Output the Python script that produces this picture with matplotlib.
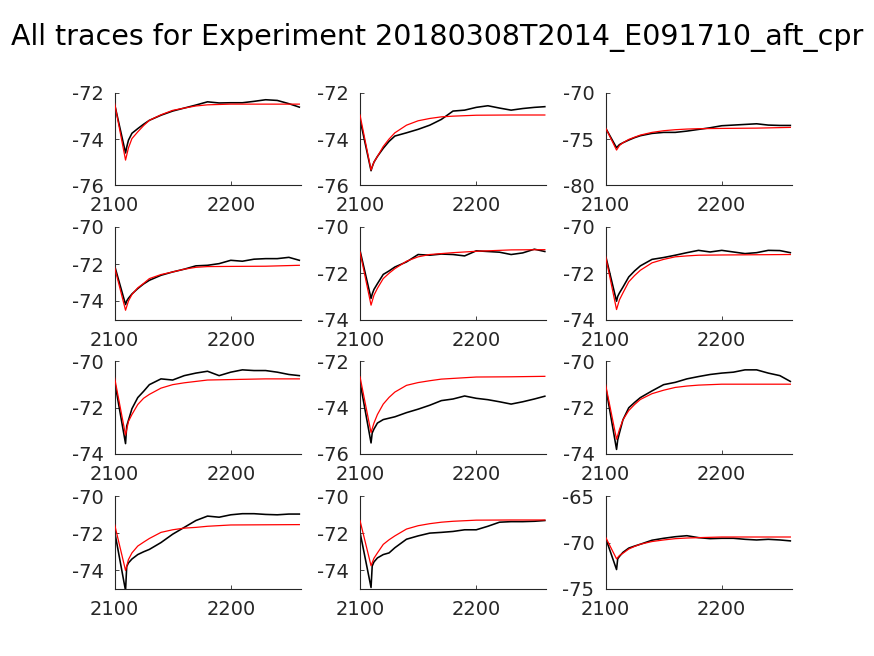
import matplotlib
matplotlib.use('Agg')
import matplotlib.pyplot as plt

plt.rcParams['font.family'] = ['DejaVu Sans']
plt.rcParams['axes.unicode_minus'] = False

title = "All traces for Experiment 20180308T2014_E091710_aft_cpr"
xlim = (2100, 2260)
xticks = [2100, 2200]

# time grid for recorded traces (black) and fitted curves (red)
t_trace = [2100, 2109.5, 2110.5, 2112, 2115, 2120, 2125, 2130, 2140, 2150, 2160,
           2170, 2180, 2190, 2200, 2210, 2220, 2230, 2240, 2250, 2259]
t_fit = [2100, 2109.5, 2112, 2115, 2120, 2125, 2130, 2140, 2150, 2160, 2170,
         2180, 2200, 2230, 2259]

trace_11 = [-72.47, -74.6, -74.35, -74.05, -73.75, -73.55, -73.36, -73.19, -72.97, -72.79, -72.66,
            -72.53, -72.39, -72.44, -72.43, -72.43, -72.37, -72.30, -72.33, -72.47, -72.62]
fit_11 = [-72.43, -74.91, -74.38, -73.98, -73.69, -73.42, -73.19, -72.95, -72.76, -72.66, -72.57,
          -72.52, -72.49, -72.49, -72.49]

trace_12 = [-73.15, -75.37, -75.2, -75.0, -74.75, -74.40, -74.10, -73.87, -73.73, -73.58, -73.40,
            -73.15, -72.79, -72.75, -72.63, -72.56, -72.66, -72.75, -72.68, -72.63, -72.60]
fit_12 = [-72.96, -75.34, -75.0, -74.75, -74.32, -74.0, -73.73, -73.40, -73.21, -73.11, -73.04,
          -73.01, -72.97, -72.96, -72.96]

trace_13 = [-73.78, -75.94, -75.8, -75.6, -75.4, -75.11, -74.85, -74.64, -74.39, -74.28, -74.28,
            -74.14, -73.96, -73.78, -73.56, -73.49, -73.42, -73.35, -73.49, -73.53, -73.53]
fit_13 = [-73.78, -76.19, -75.7, -75.4, -75.04, -74.8, -74.57, -74.28, -74.10, -73.99, -73.92,
          -73.88, -73.85, -73.82, -73.74]

trace_21 = [-72.07, -74.19, -74.0, -73.85, -73.62, -73.33, -73.08, -72.88, -72.61, -72.43, -72.28,
            -72.10, -72.07, -71.98, -71.80, -71.85, -71.74, -71.71, -71.71, -71.64, -71.80]
fit_21 = [-72.16, -74.50, -74.0, -73.65, -73.29, -73.05, -72.79, -72.57, -72.43, -72.28, -72.18,
          -72.14, -72.13, -72.12, -72.07]

trace_22 = [-71.01, -73.09, -72.9, -72.70, -72.45, -72.05, -71.90, -71.73, -71.51, -71.19, -71.22,
            -71.17, -71.19, -71.25, -71.03, -71.06, -71.09, -71.19, -71.12, -70.96, -71.06]
fit_22 = [-71.08, -73.38, -72.95, -72.65, -72.23, -72.0, -71.80, -71.48, -71.29, -71.19, -71.15,
          -71.11, -71.05, -70.99, -70.98]

trace_23 = [-71.22, -73.21, -73.0, -72.85, -72.60, -72.16, -71.90, -71.68, -71.40, -71.32, -71.22,
            -71.11, -71.01, -71.08, -71.01, -71.08, -71.15, -71.11, -71.01, -71.02, -71.11]
fit_23 = [-71.25, -73.57, -73.15, -72.85, -72.37, -72.1, -71.87, -71.55, -71.40, -71.29, -71.25,
          -71.22, -71.21, -71.20, -71.19]

trace_31 = [-70.84, -73.56, -72.8, -72.55, -72.05, -71.57, -71.30, -71.01, -70.76, -70.81, -70.62,
            -70.51, -70.43, -70.62, -70.47, -70.37, -70.40, -70.40, -70.47, -70.57, -70.62]
fit_31 = [-70.69, -73.19, -72.6, -72.3, -71.87, -71.6, -71.43, -71.16, -71.01, -70.93, -70.87,
          -70.81, -70.79, -70.76, -70.76]

trace_32 = [-72.89, -75.53, -75.1, -74.93, -74.67, -74.52, -74.46, -74.40, -74.22, -74.07, -73.90,
            -73.70, -73.63, -73.50, -73.60, -73.66, -73.75, -73.85, -73.75, -73.63, -73.51]
fit_32 = [-72.67, -75.08, -74.67, -74.30, -73.85, -73.56, -73.33, -73.04, -72.92, -72.84, -72.77,
          -72.74, -72.68, -72.67, -72.65]

trace_33 = [-71.06, -73.81, -73.4, -73.1, -72.53, -72.01, -71.78, -71.57, -71.28, -71.01, -70.91,
            -70.76, -70.66, -70.57, -70.51, -70.47, -70.37, -70.37, -70.51, -70.62, -70.87]
fit_33 = [-70.99, -73.37, -72.95, -72.53, -72.13, -71.87, -71.65, -71.40, -71.25, -71.13, -71.07,
          -71.03, -70.99, -70.99, -70.99]

trace_41 = [-71.86, -75.1, -73.8, -73.6, -73.39, -73.15, -73.0, -72.87, -72.50, -72.05, -71.68,
            -71.31, -71.07, -71.13, -71.00, -70.94, -70.94, -70.98, -71.00, -70.96, -70.96]
fit_41 = [-71.50, -74.01, -73.42, -73.06, -72.69, -72.48, -72.28, -71.95, -71.81, -71.72, -71.68,
          -71.62, -71.55, -71.54, -71.53]

trace_42 = [-71.94, -74.93, -73.77, -73.55, -73.33, -73.15, -73.06, -72.78, -72.32, -72.14, -71.99,
            -71.95, -71.90, -71.81, -71.81, -71.62, -71.40, -71.37, -71.37, -71.35, -71.31]
fit_42 = [-71.31, -73.75, -73.35, -73.06, -72.60, -72.35, -72.14, -71.77, -71.59, -71.48, -71.40,
          -71.35, -71.29, -71.28, -71.28]

trace_43 = [-69.47, -72.92, -71.76, -71.5, -71.06, -70.60, -70.38, -70.18, -69.75, -69.54, -69.37,
            -69.26, -69.47, -69.58, -69.54, -69.54, -69.65, -69.72, -69.65, -69.72, -69.82]
fit_43 = [-69.40, -71.76, -71.4, -71.16, -70.70, -70.42, -70.18, -69.89, -69.72, -69.58, -69.51,
          -69.47, -69.40, -69.40, -69.40]

traces = [[trace_11, trace_12, trace_13], [trace_21, trace_22, trace_23],
          [trace_31, trace_32, trace_33], [trace_41, trace_42, trace_43]]
fits = [[fit_11, fit_12, fit_13], [fit_21, fit_22, fit_23],
        [fit_31, fit_32, fit_33], [fit_41, fit_42, fit_43]]

ylims = [[(-76, -72), (-76, -72), (-80, -70)],
         [(-75, -70), (-74, -70), (-74, -70)],
         [(-74, -70), (-76, -72), (-74, -70)],
         [(-75, -70), (-75, -70), (-75, -65)]]
yticks = [[[-76, -74, -72], [-76, -74, -72], [-80, -75, -70]],
          [[-74, -72, -70], [-74, -72, -70], [-74, -72, -70]],
          [[-74, -72, -70], [-76, -74, -72], [-74, -72, -70]],
          [[-74, -72, -70], [-74, -72, -70], [-75, -70, -65]]]

W, H = 874, 656
fig = plt.figure(figsize=(W / 100, H / 100), dpi=100)
fig.patch.set_facecolor('white')

lefts = [114.5, 360.0, 605.5]
bottoms = [185.3, 319.5, 453.8, 588.8]
aw, ah = 186.0, 92.5
tc = '#262626'

for r in range(4):
    for c in range(3):
        ax = fig.add_axes([lefts[c] / W, 1 - bottoms[r] / H, aw / W, ah / H])
        ax.plot(t_trace, traces[r][c], color='black', lw=1.15, zorder=2)
        ax.plot(t_fit, fits[r][c], color='red', lw=0.9, zorder=3)
        ax.set_xlim(*xlim)
        ax.set_ylim(*ylims[r][c])
        ax.set_xticks(xticks)
        ax.set_yticks(yticks[r][c])
        ax.set_xticklabels([str(v) for v in xticks])
        ax.set_yticklabels([str(v) for v in yticks[r][c]])
        for s in ('top', 'right'):
            ax.spines[s].set_visible(False)
        for s in ('left', 'bottom'):
            ax.spines[s].set_color(tc)
            ax.spines[s].set_linewidth(0.8)
        ax.tick_params(direction='in', length=3, width=0.6, colors=tc,
                       labelsize=14)
        ax.tick_params(axis='x', pad=8)
        ax.tick_params(axis='y', pad=8)

fig.text(0.5, 1 - 37 / H, title, ha='center', va='center', fontsize=20.5, color='black')

fig.savefig('out.png', dpi=100, facecolor='white')
